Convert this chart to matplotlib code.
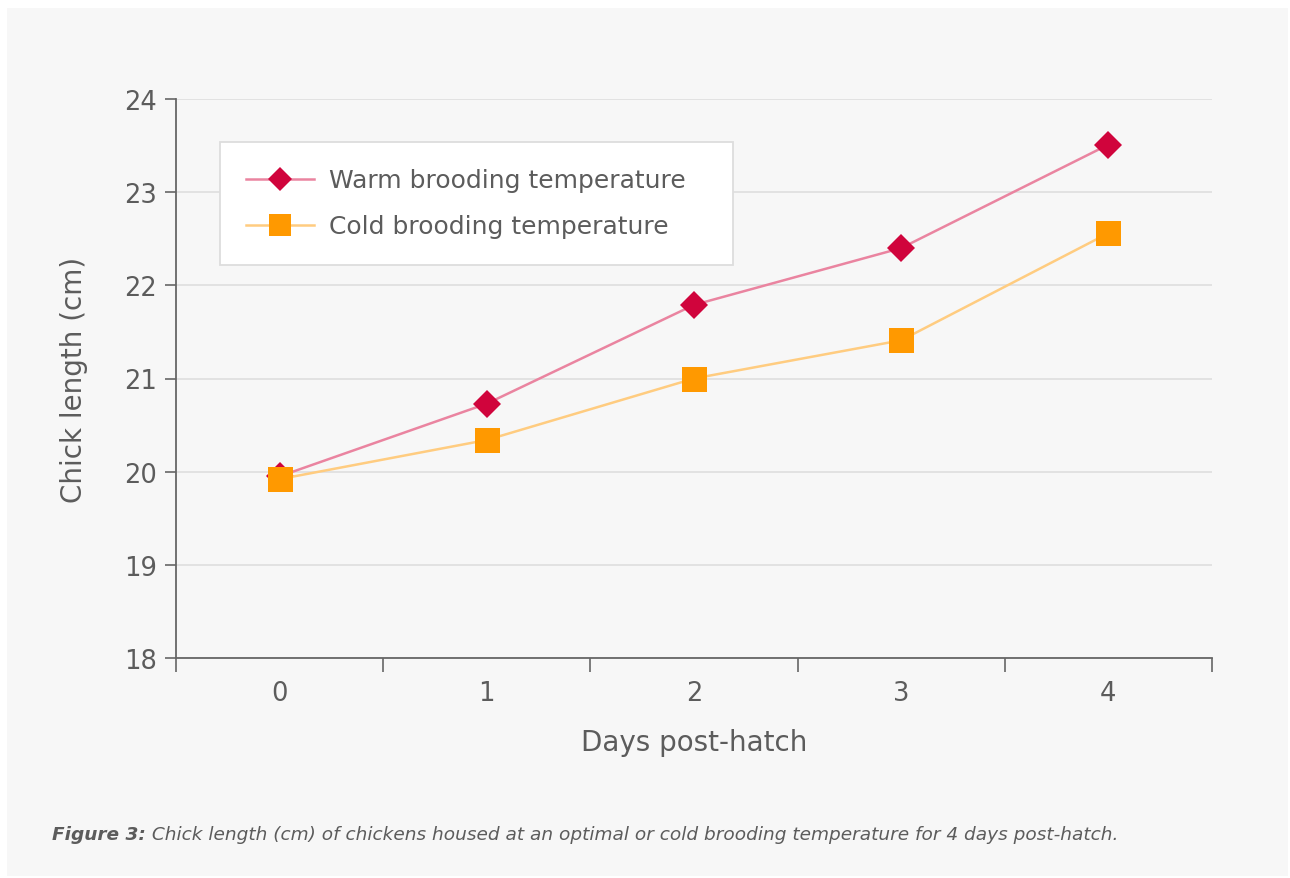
import matplotlib
matplotlib.use("Agg")
import matplotlib.pyplot as plt
from matplotlib.patches import Rectangle
from matplotlib.ticker import FixedLocator

days = ["0", "1", "2", "3", "4"]
warm = [19.95, 20.73, 21.79, 22.40, 23.51]
cold = [19.92, 20.34, 21.00, 21.41, 22.56]
yticks = [18, 19, 20, 21, 22, 23, 24]
series_names = ["Warm brooding temperature", "Cold brooding temperature"]
caption_bold = "Figure 3:"
caption_rest = " Chick length (cm) of chickens housed at an optimal or cold brooding temperature for 4 days post-hatch."

W, H = 1290, 879
plt.rcParams['font.family'] = ['DejaVu Sans']
txt = '#5c5c5c'
fig = plt.figure(figsize=(W/100, H/100), dpi=100, facecolor='white')
bg = Rectangle((7/W, 2/H), (1288-7)/W, (870-2)/H, transform=fig.transFigure,
               facecolor='#f7f7f7', edgecolor='none', zorder=-10)
fig.add_artist(bg)

ax = fig.add_axes([176/W, (H-659)/H, (1212-176)/W, (659-100)/H])
ax.set_facecolor('none')
x = list(range(len(days)))
ax.plot(x, warm, color='#ea84a0', lw=1.8, marker='D', ms=13.8, mfc='#d0043c', mec='#d0043c', mew=0,
        label=series_names[0], zorder=3)
ax.plot(x, cold, color='#ffcc80', lw=1.8, marker='s', ms=18, mfc='#ff9900', mec='#ff9900', mew=0,
        label=series_names[1], zorder=4)

ax.set_xlim(-0.5, len(days) - 0.5)
ax.set_ylim(18, 24)
ax.set_yticks(yticks)
ax.set_yticklabels([str(v) for v in yticks])
ax.set_xticks(x)
ax.set_xticklabels(days)
ax.xaxis.set_minor_locator(FixedLocator([i - 0.5 for i in range(len(days) + 1)]))
ax.tick_params(axis='x', which='major', length=0, pad=16, labelsize=18.5, labelcolor=txt)
ax.tick_params(axis='x', which='minor', length=10, width=1.2, color='#666666', direction='out')
ax.tick_params(axis='y', length=8, width=1.2, color='#666666', pad=6, labelsize=18.5, labelcolor=txt)
for s in ['top', 'right']:
    ax.spines[s].set_visible(False)
for s in ['left', 'bottom']:
    ax.spines[s].set_color('#666666')
    ax.spines[s].set_linewidth(1.3)
ax.yaxis.grid(True, color='#e0e0e0', lw=1.3)
ax.set_axisbelow(True)
ax.set_xlabel("Days post-hatch", fontsize=20, color=txt, labelpad=16)
ax.set_ylabel("Chick length (cm)", fontsize=20, color=txt, labelpad=26)

x0 = (220-176)/(1212-176)
wl = (733-220)/(1212-176)
ytop = (659-143)/(659-100)
leg = ax.legend(loc='upper left', bbox_to_anchor=(x0, ytop - 0.3, wl, 0.3), mode='expand',
                fontsize=18, frameon=True, fancybox=False, edgecolor='#dddddd', facecolor='white',
                framealpha=1, handlelength=2.7, handletextpad=0.6, borderpad=1.05, labelspacing=0.88,
                borderaxespad=0, markerscale=0.85)
for t in leg.get_texts():
    t.set_color(txt)
leg.get_frame().set_linewidth(1.3)

t1 = fig.text(52/W, (H-835)/H, caption_bold, fontsize=13.3, style='italic', weight='bold', color=txt, va='center')
fig.canvas.draw()
bb = t1.get_window_extent()
fig.text(bb.x1/W, (H-835)/H, caption_rest, fontsize=13.3, style='italic', color=txt, va='center')

fig.savefig("out.png", dpi=100, facecolor='white')
